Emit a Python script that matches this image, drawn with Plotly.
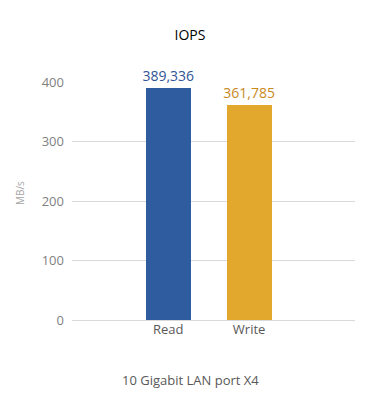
import plotly.graph_objects as go

categories = ["Read", "Write"]
values = [389.336, 361.785]
colors = ["#2E5C9F", "#E2A72D"]
label_colors = ["#2F5597", "#C9891B"]
y_ticks = [0, 100, 200, 300, 400]

FONT = "Open Sans"
W, H = 380, 420
L, R, T, B = 72, 25, 82, 100

fig = go.Figure()
fig.add_trace(go.Bar(
    x=[0, 1],
    y=values,
    width=0.555,
    marker=dict(color=colors, line=dict(width=0)),
    texttemplate="%{y:.3f}",
    textposition="outside",
    constraintext="none",
    textfont=dict(family=FONT, size=14, color=label_colors),
    cliponaxis=False,
    hoverinfo="skip",
))

fig.update_layout(
    width=W, height=H,
    margin=dict(l=L, r=R, t=T, b=B),
    paper_bgcolor="white", plot_bgcolor="white",
    separators=",.",
    showlegend=False,
    title=dict(text="IOPS", x=0.5, xref="container", xanchor="center",
               y=1 - 35 / H, yref="container", yanchor="middle",
               font=dict(family=FONT, size=14, color="#000000")),
    font=dict(family=FONT),
    bargap=0,
)

fig.update_xaxes(
    range=[-1.19, 2.31],
    tickmode="array", tickvals=[0, 1], ticktext=categories,
    tickfont=dict(family=FONT, size=13, color="#595959"),
    showgrid=False, zeroline=False, showline=False,
    ticks="", fixedrange=True, automargin=False,
)
fig.update_yaxes(
    range=[0, 400],
    tickmode="array", tickvals=y_ticks,
    tickfont=dict(family=FONT, size=13, color="#7F7F7F"),
    showgrid=True, gridcolor="#D9D9D9", gridwidth=1,
    zeroline=True, zerolinecolor="#D9D9D9", zerolinewidth=1,
    showline=False, ticks="", ticklabelstandoff=7, automargin=False,
    fixedrange=True,
)

pw, ph = W - L - R, H - T - B

fig.add_annotation(
    text="MB/s",
    xref="paper", yref="paper",
    x=(19.5 - L) / pw, y=(H - B - 192.5) / ph,
    xanchor="center", yanchor="middle", textangle=-90,
    showarrow=False,
    font=dict(family=FONT, size=10, color="#A6A6A6"),
)

fig.add_annotation(
    text="10 Gigabit LAN port X4",
    xref="paper", yref="paper",
    x=(190 - L) / pw, y=-(380 - (H - B)) / ph,
    xanchor="center", yanchor="middle",
    showarrow=False,
    font=dict(family=FONT, size=13, color="#595959"),
)

fig.write_html("out.html", config={"displayModeBar": False, "staticPlot": True},
               post_script="document.body.style.margin='0';")
